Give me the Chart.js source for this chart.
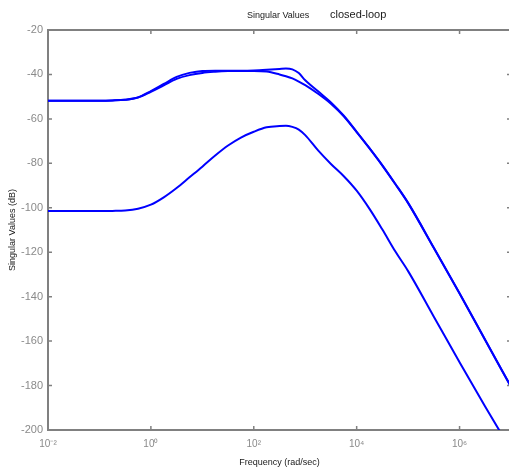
<!DOCTYPE html>
<html><head><meta charset="utf-8">
<script src="https://cdn.jsdelivr.net/npm/chart.js@4/dist/chart.umd.min.js"></script>
<style>html,body{margin:0;padding:0;background:#fff;overflow:hidden}#wrap{width:512px;height:473px;position:relative}</style>
</head><body><div id="wrap"><canvas id="c" width="512" height="473"></canvas></div>
<script>
// Frequency grid (rad/sec)
const frequency = [0.01, 0.0316, 0.1, 0.178, 0.316, 0.562, 1, 1.778, 3.162, 5.623, 10, 17.78, 31.62, 56.23, 100, 177.8, 316.2, 421.7, 562.3, 749.9, 1000, 1778, 3162, 5623, 1e4, 1.778e4, 3.162e4, 5.623e4, 1e5, 3.162e5, 1e6, 3.162e6, 1e7];
// Singular values (dB)
const sigma1 = [-51.8, -51.8, -51.8, -51.7, -51.4, -50.3, -47.5, -44.3, -41.1, -39.3, -38.4, -38.3, -38.3, -38.3, -38.2, -37.9, -37.5, -37.3, -37.7, -39.4, -42.6, -47.6, -52.6, -58.6, -65.8, -73.2, -80.9, -89.2, -97.8, -118.0, -138.5, -159.5, -180.5];
const sigma2 = [-51.8, -51.8, -51.8, -51.7, -51.4, -50.4, -47.8, -44.9, -42.0, -40.3, -39.3, -38.8, -38.5, -38.4, -38.4, -38.7, -40.0, -40.8, -41.8, -43.2, -44.8, -48.7, -53.2, -58.9, -66.0, -73.3, -81.0, -89.3, -97.9, -118.1, -138.6, -159.6, -180.6];
const sigma3 = [-101.5, -101.5, -101.5, -101.4, -101.2, -100.4, -98.6, -95.3, -91.1, -86.3, -81.5, -76.5, -72.0, -68.4, -65.8, -63.8, -63.2, -63.1, -63.6, -64.8, -67.3, -74.2, -80.3, -85.8, -92.3, -100.5, -109.8, -119.6, -128.5, -149.0, -169.5, -189.5, -209.0];
// Ticks & text
const xTickValues = [1e-2, 1, 1e2, 1e4, 1e6];
const xTickLabels = ['10\u207B\u00B2', '10\u2070', '10\u00B2', '10\u2074', '10\u2076'];
const yTickValues = [-20, -40, -60, -80, -100, -120, -140, -160, -180, -200];
const titleMain = 'Singular Values';
const titleSub = 'closed-loop';
const xTitle = 'Frequency (rad/sec)';
const yTitle = 'Singular Values (dB)';

const FONT = '"Liberation Sans", Arial, sans-serif';
const AXIS_GRAY = '#808080';

const framePlugin = {
  id: 'frame',
  beforeDatasetsDraw(chart) {
    const {ctx, chartArea: a, scales: {x, y}} = chart;
    ctx.save();
    ctx.strokeStyle = AXIS_GRAY;
    ctx.lineWidth = 2;
    ctx.strokeRect(a.left, a.top, a.right - a.left, a.bottom - a.top);
    ctx.lineWidth = 1.5;
    ctx.beginPath();
    x.ticks.forEach(t => {
      const px = x.getPixelForValue(t.value);
      ctx.moveTo(px, a.bottom); ctx.lineTo(px, a.bottom - 4);
      ctx.moveTo(px, a.top); ctx.lineTo(px, a.top + 4);
    });
    y.ticks.forEach(t => {
      const py = y.getPixelForValue(t.value);
      ctx.moveTo(a.left, py); ctx.lineTo(a.left + 4, py);
      ctx.moveTo(a.right, py); ctx.lineTo(a.right - 4, py);
    });
    ctx.stroke();
    ctx.restore();
  },
  afterDraw(chart) {
    const {ctx} = chart;
    ctx.save();
    ctx.fillStyle = '#1a1a1a';
    ctx.textBaseline = 'middle';
    ctx.textAlign = 'left';
    ctx.font = '9px ' + FONT;
    ctx.fillText(titleMain, 247, 16);
    ctx.font = '11px ' + FONT;
    ctx.fillText(titleSub, 330, 15);
    ctx.restore();
  }
};

const mk = (label, data) => ({
  label,
  data: frequency.map((f, i) => ({x: f, y: data[i]})),
  borderColor: '#0000ff',
  borderWidth: 2,
  pointRadius: 0,
  fill: false,
  cubicInterpolationMode: 'monotone'
});

new Chart(document.getElementById('c'), {
  type: 'line',
  data: { datasets: [mk('sv1', sigma1), mk('sv2', sigma2), mk('sv3', sigma3)] },
  options: {
    responsive: false,
    animation: false,
    devicePixelRatio: 1,
    layout: { padding: { top: 30, right: 1, left: 0, bottom: 0 } },
    plugins: { legend: { display: false }, tooltip: { enabled: false }, title: { display: false } },
    scales: {
      x: {
        type: 'logarithmic',
        min: 1e-2,
        max: 1e7,
        afterBuildTicks: s => { s.ticks = xTickValues.map(v => ({value: v})); },
        afterFit: s => { s.height = 43; },
        grid: { display: false, drawTicks: false },
        border: { display: false },
        ticks: {
          autoSkip: false, maxRotation: 0, minRotation: 0,
          padding: 8,
          color: '#8a8a8a',
          font: { family: FONT, size: 10 },
          callback: (v, i) => xTickLabels[i]
        },
        title: { display: true, text: xTitle, color: '#1a1a1a', font: { family: FONT, size: 9 }, padding: { top: 0, bottom: 5 } }
      },
      y: {
        type: 'linear',
        min: -200,
        max: -20,
        afterBuildTicks: s => { s.ticks = yTickValues.map(v => ({value: v})); },
        afterFit: s => { s.width = 48; },
        grid: { display: false, drawTicks: false },
        border: { display: false },
        ticks: {
          padding: 5,
          color: '#8a8a8a',
          font: { family: FONT, size: 11 },
          callback: v => String(v)
        },
        title: { display: true, text: yTitle, color: '#1a1a1a', font: { family: FONT, size: 9 }, padding: { top: 7, bottom: 0 } }
      }
    }
  },
  plugins: [framePlugin]
});
</script>
</body></html>
